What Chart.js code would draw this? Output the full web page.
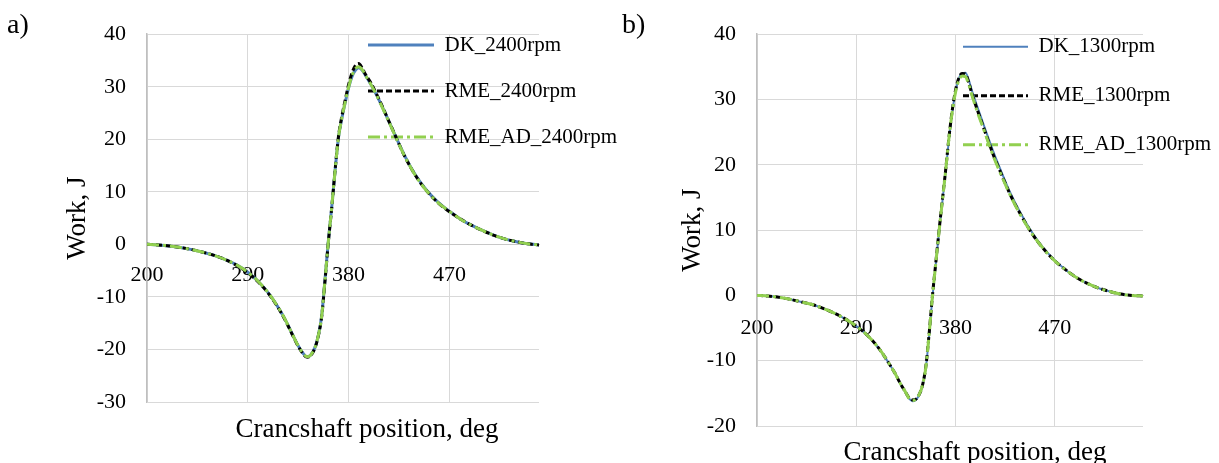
<!DOCTYPE html>
<html><head><meta charset="utf-8">
<script src="https://cdn.jsdelivr.net/npm/chart.js@4.4.1/dist/chart.umd.min.js"></script>
<style>
html,body{margin:0;padding:0;overflow:hidden;background:#fff;width:1219px;height:463px;}
#wrapA{position:absolute;left:0;top:0;width:632px;height:463px;z-index:2;}
#wrapB{position:absolute;left:610px;top:0;width:609px;height:480px;z-index:1;}
.panel{position:absolute;font-family:'Liberation Serif','Times New Roman',serif;font-size:28px;line-height:28px;color:#000;z-index:3;}
</style></head><body>
<div id="wrapA"><canvas id="cA"></canvas></div>
<div id="wrapB"><canvas id="cB"></canvas></div>
<div class="panel" style="left:7px;top:10px">a)</div>
<div class="panel" style="left:622px;top:10px">b)</div>
<script>
// ---------- data ----------
const xTicks = [200, 290, 380, 470];
const xMin = 200, xMax = 550;
const xTitle = 'Crancshaft position, deg';
const yTitle = 'Work, J';

const namesA = ['DK_2400rpm', 'RME_2400rpm', 'RME_AD_2400rpm'];
const degA = [200,210,220,230,240,250,260,270,280,290,300,310,320,325,330,335,340,343,346,350,353,356,359,362,365,368,371,374,377,380,383,386,389,392,395,400,405,410,415,420,430,440,450,460,470,480,490,500,510,520,530,540,550];
const dkA = [0.0,-0.1,-0.3,-0.6,-1.0,-1.5,-2.1,-2.9,-3.9,-5.3,-7.2,-9.7,-13.0,
  -15.0,-17.2,-19.3,-20.9,-21.4,-21.1,
  -19.6,-17.3,-13.5,-6.5,0.8,7.2,14.2,20.4,24.0,27.0,29.8,31.9,33.1,33.6,33.2,32.2,
  30.4,28.4,26.2,23.9,21.5,
  16.9,13.1,10.2,8.0,6.3,4.8,3.6,2.6,1.7,1.0,0.5,0.1,-0.1];
const rmeA = [0.0,-0.1,-0.3,-0.6,-1.0,-1.5,-2.1,-2.9,-4.0,-5.4,-7.3,-9.8,-13.1,
  -15.1,-17.3,-19.4,-21.0,-21.5,-21.2,
  -19.7,-17.4,-13.7,-6.8,0.6,7.1,14.3,20.6,24.4,27.5,30.4,32.6,34.0,34.4,33.6,32.4,
  30.7,28.6,26.3,23.9,21.5,
  16.8,13.0,10.1,7.9,6.2,4.8,3.6,2.6,1.7,1.0,0.5,0.1,-0.1];
const adA = [0.0,-0.1,-0.3,-0.6,-1.0,-1.5,-2.1,-2.9,-3.9,-5.3,-7.2,-9.7,-13.0,
  -15.0,-17.2,-19.3,-20.9,-21.4,-21.1,
  -19.6,-17.3,-13.6,-6.6,0.7,7.2,14.2,20.4,24.1,27.1,29.9,32.1,33.4,33.8,33.3,32.2,
  30.4,28.4,26.1,23.8,21.4,
  16.8,13.0,10.1,7.9,6.3,4.8,3.6,2.6,1.7,1.0,0.5,0.1,-0.1];

const namesB = ['DK_1300rpm', 'RME_1300rpm', 'RME_AD_1300rpm'];
const degB = [200,210,220,230,240,250,260,270,280,290,300,310,320,325,330,335,338,341,344,347,350,353,356,359,362,365,368,371,374,377,380,383,386,389,392,395,400,405,410,415,420,430,440,450,460,470,480,490,500,510,520,530,540,550];
const dkB = [0.0,-0.1,-0.3,-0.6,-1.0,-1.4,-2.0,-2.7,-3.6,-4.7,-6.1,-8.0,-10.5,
  -11.9,-13.5,-15.0,-15.8,-16.2,-16.0,-15.3,-13.9,-11.2,-6.3,-0.4,4.6,9.6,14.2,18.8,23.8,28.0,31.2,33.2,34.0,34.1,33.0,31.3,
  28.8,26.4,24.0,21.7,19.6,
  15.6,12.3,9.5,7.2,5.4,3.9,2.7,1.8,1.1,0.6,0.2,0.0,-0.1];
const rmeB = [0.0,-0.1,-0.3,-0.6,-1.0,-1.4,-2.0,-2.7,-3.6,-4.7,-6.1,-8.0,-10.5,
  -11.9,-13.5,-14.9,-15.7,-16.0,-15.9,-15.2,-13.8,-11.0,-6.0,-0.2,4.8,9.8,14.5,19.1,24.1,28.3,31.4,33.3,34.0,33.9,32.6,30.8,
  28.3,25.9,23.5,21.2,19.2,
  15.3,12.1,9.3,7.1,5.3,3.9,2.7,1.8,1.1,0.6,0.2,0.0,-0.1];
const adB = [0.0,-0.1,-0.3,-0.6,-1.0,-1.4,-2.0,-2.7,-3.6,-4.7,-6.1,-8.0,-10.5,
  -11.9,-13.5,-14.9,-15.8,-16.1,-15.9,-15.2,-13.8,-11.1,-6.1,-0.3,4.7,9.7,14.4,19.0,24.0,28.1,31.1,32.9,33.6,33.5,32.3,30.6,
  28.0,25.7,23.3,21.0,19.0,
  15.2,12.0,9.3,7.1,5.3,3.9,2.7,1.8,1.1,0.6,0.2,0.0,-0.1];

// ---------- chart ----------
const SERIF = "'Liberation Serif','Times New Roman',serif";
Chart.defaults.font.family = SERIF;
Chart.defaults.color = '#000';

const legendPlace = {
  id: 'legendPlace',
  afterLayout(chart, args, opts) {
    const lg = chart.legend;
    if (lg) {
      const w = lg.width, h = lg.height;
      lg.left = opts.left; lg.top = opts.top;
      lg.right = opts.left + w; lg.bottom = opts.top + h;
    }
    const xt = chart.scales.xt;
    if (xt) { xt.left = chart.chartArea.left + opts.titleShift; }
  }
};

function pts(xs, ys) { return xs.map((x, i) => ({x: x, y: ys[i]})); }

function makeChart(id, p) {
  const styles = [
    {color: '#4f81bd', dash: [], width: p.blueWidth, order: 3},
    {color: '#000000', dash: [6, 3], width: 3, order: 2},
    {color: '#92d050', dash: [12, 4, 3, 4], width: 3, order: 1}
  ];
  const datasets = p.series.map((ys, i) => ({
    label: p.names[i],
    data: pts(p.deg, ys),
    borderColor: styles[i].color,
    backgroundColor: styles[i].color,
    borderWidth: styles[i].width,
    borderDash: styles[i].dash,
    pointRadius: 0,
    cubicInterpolationMode: 'monotone',
    fill: false,
    order: styles[i].order
  }));
  return new Chart(document.getElementById(id), {
    type: 'line',
    data: {datasets: datasets},
    plugins: [legendPlace],
    options: {
      responsive: true,
      maintainAspectRatio: false,
      animation: false,
      layout: {padding: {left: 0, top: 29, right: p.padRight, bottom: 0}},
      scales: {
        x: {
          type: 'linear', min: xMin, max: xMax,
          position: {y: 0},
          afterBuildTicks: (s) => { s.ticks = xTicks.map(v => ({value: v})); },
          ticks: {font: {size: 22, family: SERIF}, color: '#000', padding: p.xTickPad, maxRotation: 0},
          grid: {color: '#d9d9d9', lineWidth: 1, drawTicks: false},
          border: {color: '#c8c8c8', width: 1}
        },
        xt: {
          type: 'linear', min: xMin, max: xMax, position: 'bottom',
          ticks: {display: false},
          grid: {display: false, drawTicks: false},
          border: {display: false},
          title: {display: true, text: xTitle, color: '#000', font: {size: 27, family: SERIF}, padding: {top: 0, bottom: p.xTitlePad}},
          afterFit: (s) => { s.height = p.xtHeight; }
        },
        y: {
          type: 'linear', min: p.yMin, max: 40,
          ticks: {stepSize: 10, font: {size: 22, family: SERIF}, color: '#000', padding: 21},
          grid: {color: '#d9d9d9', lineWidth: 1, drawTicks: false},
          border: {color: '#bfbfbf', width: 1.5},
          title: {display: true, text: yTitle, color: '#000', font: {size: 27, family: SERIF}, padding: {top: p.yTitlePad, bottom: 0}},
          afterFit: (s) => { s.width = 147; }
        }
      },
      plugins: {
        legend: {
          display: true,
          position: 'chartArea',
          align: 'start',
          labels: {
            usePointStyle: true,
            pointStyle: 'line',
            pointStyleWidth: p.legendLine,
            padding: p.legendPad,
            color: '#000',
            font: {size: 21, family: SERIF},
            sort: (a, b) => a.datasetIndex - b.datasetIndex,
            generateLabels: (chart) => {
              const items = Chart.defaults.plugins.legend.labels.generateLabels(chart);
              items.forEach(it => {
                const ds = chart.data.datasets[it.datasetIndex];
                it.lineDash = ds.borderDash;
                it.lineWidth = ds.borderWidth;
                it.strokeStyle = ds.borderColor;
                it.pointStyle = 'line';
              });
              return items;
            }
          }
        },
        legendPlace: {left: p.legendLeft, top: p.legendTop, titleShift: p.titleShift},
        tooltip: {enabled: false}
      }
    }
  });
}

makeChart('cA', {
  names: namesA, deg: degA, series: [dkA, rmeA, adA],
  yMin: -30, padRight: 93, xTickPad: 17.8,
  xtHeight: 61, xTitlePad: 16.8, yTitlePad: 61.8, titleShift: 48,
  legendLine: 66, legendPad: 25, legendLeft: 343, legendTop: 9.5,
  blueWidth: 3
});
makeChart('cB', {
  names: namesB, deg: degB, series: [dkB, rmeB, adB],
  yMin: -20, padRight: 76, xTickPad: 19.8,
  xtHeight: 54, xTitlePad: 10.8, yTitlePad: 67, titleShift: 50,
  legendLine: 65, legendPad: 28, legendLeft: 325, legendTop: 8.2,
  blueWidth: 2
});
</script>
</body></html>
